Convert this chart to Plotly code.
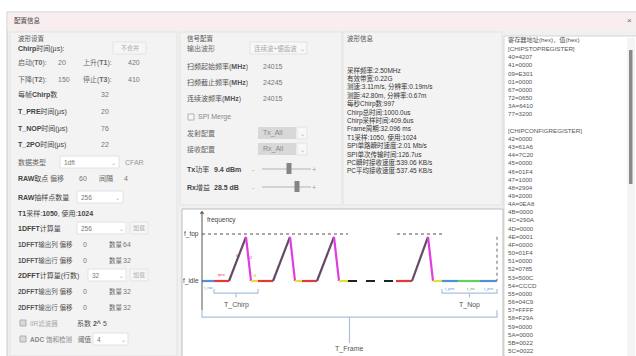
import numpy as np
import plotly.graph_objects as go

W, H = 636, 356
FONT = "Liberation Sans, Noto Sans CJK SC, sans-serif"

# ---------------- data ----------------
title_text = "配置信息"
timing_labels = ["启动(T0):", "上升(T1):", "下降(T2):", "停止(T3):"]
timing_values = [20, 420, 150, 410]
param_labels = ["每帧Chirp数", "T_PRE时间(μs)", "T_NOP时间(μs)", "T_2PO时间(μs)"]
param_values = [32, 20, 76, 22]
raw_offset, raw_step, raw_count = 60, 4, 256
t1_sample, t1_used = 1050, 1024
fft1_size, fft2_size = 256, 32
fft_rows = ["1DFFT输出列", "1DFFT输出行", "2DFFT输出列", "2DFFT输出行"]
fft_offsets = [0, 0, 0, 0]
fft_counts = [64, 32, 32, 32]
iir_coef, adc_threshold = 5, 4

freq_labels = ["扫频起始频率(MHz)", "扫频截止频率(MHz)", "连续波频率(MHz)"]
freq_values = [24015, 24245, 24015]
tx_power, rx_gain = 9.4, 28.5

info_lines = ["采样频率:2.50MHz", "有效带宽:0.22G", "测速:3.11m/s, 分辨率:0.19m/s",
              "测距:42.80m, 分辨率:0.67m", "每秒Chirp数:997", "Chirp总时间:1000.0us",
              "Chirp采样时间:409.6us", "Frame周期:32.096 ms", "T1采样:1050, 使用:1024",
              "SPI单路瞬时速度:2.01 Mb/s", "SPI单次传输时间:126.7us",
              "PC瞬时接收速度:539.06 KB/s", "PC平均接收速度:537.45 KB/s"]

stop_regs = ["40=4207", "41=0000", "09=E301", "01=0000", "67=0000", "72=0650", "3A=6410", "77=3200"]
config_regs = ["42=0000", "43=61A6", "44=7C20", "45=0000", "46=01F4", "47=1000", "48=2904",
               "49=2000", "4A=0EA8", "4B=0000", "4C=290A", "4D=0000", "4E=0001", "4F=0000",
               "50=01F4", "51=0000", "52=0785", "53=500C", "54=CCCD", "55=0000", "56=04C9",
               "57=FFFF", "58=F29A", "59=0000", "5A=0000", "5B=0022", "5C=0022"]

# waveform schematic: segment durations and kinds
seg_dur = [12, 15, 17, 5, 7, 15, 17, 5, 7, 15, 17, 5, 9, 48, 16, 16, 5, 9, 16, 22, 17]
seg_kind = ["nw", "pre", "up", "down", "po", "pre", "up", "down", "po", "pre", "up", "down", "po",
            "gap", "pre", "up", "down", "po", "nw", "nop", "nw"]
f_idle, f_peak, f_top = 0.0, 0.94, 1.0

kind_color = {"nw": "#4f8fdc", "pre": "#e23a3a", "up": "#654a68", "down": "#e03ce0",
              "po": "#e6dc3c", "gap": "#222222", "nop": "#5fd35f"}

# ---------------- helpers ----------------
shapes, ann = [], []


def px(x):
    return x / W


def py(y):
    return 1 - y / H


def text(x, y, s, size=7, color="#555", anchor="left", family=FONT):
    ann.append(dict(x=px(x), y=py(y), xref="paper", yref="paper", text=s, showarrow=False,
                    xanchor=anchor, yanchor="middle", font=dict(size=size, color=color, family=family),
                    borderpad=0))


def rect(x0, y0, x1, y1, fill, line=None, width=1):
    shapes.append(dict(type="rect", xref="paper", yref="paper", x0=px(x0), x1=px(x1),
                       y0=py(y1), y1=py(y0), fillcolor=fill,
                       line=dict(color=line if line else fill, width=width if line else 0),
                       layer="below"))


def hline(x0, x1, y, color, width=1):
    shapes.append(dict(type="line", xref="paper", yref="paper", x0=px(x0), x1=px(x1),
                       y0=py(y), y1=py(y), line=dict(color=color, width=width), layer="below"))


def combo(x0, x1, y, label, fill="#ffffff", tcolor="#777"):
    rect(x0, y - 6, x1, y + 6, fill, "#e2e2e2")
    text(x0 + 3, y, label, 6.5, tcolor)
    text(x1 - 5, y, "⌄", 6, "#aaa", "center", "DejaVu Sans")


def button(x0, x1, y, label):
    rect(x0, y - 6, x1, y + 6, "#f6f6f6", "#e4e4e4")
    text((x0 + x1) / 2, y, label, 6, "#aaa", "center")


def checkbox(x, y, fill="#ffffff"):
    rect(x - 3, y - 3, x + 3, y + 3, fill, "#b0b0b0")


# ---------------- window chrome ----------------
rect(7, 12, 640, 360, "#f0f0f0", "#c9c9c9")
rect(7.5, 12.5, 640, 30, "#f8edef")
text(13, 21, title_text, 6.5, "#444")
text(629, 21, "×", 8, "#666", "center")

# group panels
rect(10, 32, 177, 356, "#f3f3f3", "#e3e3e3")
rect(180, 32, 342, 205, "#f3f3f3", "#e3e3e3")
rect(343, 32, 502, 205, "#f3f3f3", "#e3e3e3")
rect(504, 36, 640, 360, "#ffffff", "#d5d5d5")
rect(627, 38, 635, 356, "#f4f4f4")
rect(629, 50, 632.5, 184, "#8a8a8a")

# ---------------- left panel ----------------
text(17, 38, "波形设置", 6.5, "#555")
text(17, 48, "<b>Chirp</b>时间(μs):", 7, "#444")
button(113, 146, 48, "不合并")
rows_y = [63, 79]
for i in range(2):
    text(17, rows_y[i], timing_labels[2 * i].replace("(T", "(<b>T").replace("):", "</b>):"), 7, "#666")
    text(57, rows_y[i], str(timing_values[2 * i]), 7, "#777")
    text(82, rows_y[i], timing_labels[2 * i + 1].replace("(T", "(<b>T").replace("):", "</b>):"), 7, "#666")
    text(127, rows_y[i], str(timing_values[2 * i + 1]), 7, "#777")
for i, yy in enumerate([95, 111, 128, 145]):
    lab = param_labels[i]
    if lab.startswith("T_"):
        lab = "<b>" + lab[:5] + "</b>" + lab[5:]
    else:
        lab = lab.replace("Chirp", "<b>Chirp</b>")
    text(17, yy, lab, 7, "#444")
    text(100, yy, str(param_values[i]), 7, "#777")
text(17, 162, "数据类型", 7, "#666")
combo(60, 119, 162, "1dft")
text(124, 162, "CFAR", 7, "#999")
text(17, 179, "<b>RAW</b>取点", 7, "#444")
text(49, 179, "偏移", 7, "#666")
text(78, 179, str(raw_offset), 7, "#777")
text(98, 179, "间隔", 7, "#666")
text(123, 179, str(raw_step), 7, "#777")
text(17, 197, "<b>RAW</b>抽样点数量", 7, "#444")
combo(77, 123, 197, str(raw_count))
text(17, 213, "<b>T1</b>采样:<b>%d</b>, 使用:<b>%d</b>" % (t1_sample, t1_used), 7, "#444")
text(17, 228, "<b>1DFFT</b>计算量", 7, "#444")
combo(77, 126, 228, str(fft1_size))
button(130, 148, 228, "加载")
fft_y = [244, 260, 291, 307]
for i in range(4):
    text(17, fft_y[i], "<b>" + fft_rows[i][:5] + "</b>" + fft_rows[i][5:] + " 偏移", 6.5, "#555")
    text(82, fft_y[i], str(fft_offsets[i]), 7, "#777")
    text(108, fft_y[i], "数量", 6.5, "#666")
    text(122, fft_y[i], str(fft_counts[i]), 7, "#777")
text(17, 275, "<b>2DFFT</b>计算量(行数)", 7, "#444")
combo(88, 126, 275, str(fft2_size))
button(130, 148, 275, "加载")
checkbox(23, 323, "#d8d8d8")
text(29, 323, "IIR滤波器", 6.5, "#aaa")
text(76, 323, "系数 <b>2^</b> " + str(iir_coef), 7, "#555")
checkbox(23, 339, "#d8d8d8")
text(29, 339, "<b>ADC</b> 饱和检测", 6.5, "#888")
text(77, 339, "阈值", 6.5, "#666")
combo(93, 128, 339, str(adc_threshold))

# ---------------- middle panel ----------------
text(186, 38, "信号配置", 6.5, "#555")
text(186, 48, "输出波形", 7, "#666")
combo(250, 307, 48, "连续波+锯齿波", "#f8f8f8", "#aaa")
for i, yy in enumerate([66, 83, 99]):
    text(186, yy, freq_labels[i].replace("(MHz)", "(<b>MHz</b>)"), 7, "#555")
    rect(258, yy - 6, 305, yy + 6, "#f3f3f3")
    text(262, yy, str(freq_values[i]), 7, "#777")
checkbox(191, 117, "#f7f7f7")
text(197, 117, "SPI Merge", 7, "#888")
for lab, val, yy in [("发射配置", "Tx_All", 133), ("接收配置", "Rx_All", 149)]:
    text(186, yy, lab, 7, "#666")
    rect(258, yy - 6, 296, yy + 6, "#d8d8d8")
    text(262, yy, val, 7, "#888")
    rect(297, yy - 6, 307, yy + 6, "#f7f7f7", "#e3e3e3")
    text(302, yy, "⌄", 6, "#aaa", "center", "DejaVu Sans")
for lab, val, unit, yy, thumb in [("Tx功率", tx_power, "dBm", 169, 289), ("Rx增益", rx_gain, "dB", 187, 297)]:
    text(186, yy, "<b>" + lab[:2] + "</b>" + lab[2:], 7, "#444")
    text(213, yy, "<b>%s %s</b>" % (val, unit), 7, "#444")
    text(253, yy, "-", 7, "#999", "center")
    text(314, yy, "+", 7, "#999", "center")
    hline(262, 311, yy, "#c8c8c8", 1.5)
    rect(thumb - 2.5, yy - 6, thumb + 2.5, yy + 5, "#858585")

# ---------------- info panel ----------------
text(346, 38, "波形信息", 6.5, "#555")
for i, s in enumerate(info_lines):
    text(346, 70 + 8.4 * i, s, 6.5, "#333")

# ---------------- register list ----------------
reg_lines = ["寄存器地址(hex)，值(hex)", "[CHIPSTOPREGISTER]"] + stop_regs + ["", "[CHIPCONFIGREGISTER]"] + config_regs
step = (350.5 - 40.5) / (len(reg_lines) - 1)
for i, s in enumerate(reg_lines):
    if s:
        text(507, 40.5 + step * i, s, 6.2, "#555")

# ---------------- diagram ----------------
rect(182, 209, 503, 360, "#ffffff", "#bdbdbd")

fig = go.Figure()
x_edges = np.concatenate([[0], np.cumsum(seg_dur)])
for i, kind in enumerate(seg_kind):
    x0, x1 = x_edges[i], x_edges[i + 1]
    if kind == "up":
        ys = [f_idle, f_peak]
    elif kind == "down":
        ys = [f_peak, f_idle]
    else:
        ys = [f_idle, f_idle]
    fig.add_trace(go.Scatter(x=[x0, x1], y=ys, mode="lines",
                             line=dict(color=kind_color[kind], width=2.2,
                                       dash="dash" if kind == "gap" else "solid"),
                             hoverinfo="skip", showlegend=False))

total = x_edges[-1]
gap_start = x_edges[seg_kind.index("gap")]
gap_end = x_edges[seg_kind.index("gap") + 1]
last_po_end = x_edges[len(seg_kind) - 3]
# f_top dotted reference
for xa, xb in [(0, gap_start), (gap_end + 1, last_po_end)]:
    fig.add_trace(go.Scatter(x=[xa, xb], y=[f_top, f_top], mode="lines",
                             line=dict(color="#8c8c8c", width=1.6, dash="dot"),
                             hoverinfo="skip", showlegend=False))
fig.add_trace(go.Scatter(x=[total, total], y=[f_peak, f_idle], mode="lines",
                         line=dict(color="#9a9a9a", width=1.5, dash="dot"),
                         hoverinfo="skip", showlegend=False))
# y axis with arrow
fig.add_trace(go.Scatter(x=[0, 0], y=[-0.62, 1.43], mode="lines",
                         line=dict(color="#555", width=1), hoverinfo="skip", showlegend=False))
fig.add_trace(go.Scatter(x=[0], y=[1.45], mode="markers",
                         marker=dict(symbol="triangle-up", size=4, color="#555"),
                         hoverinfo="skip", showlegend=False))

BR = "#a9c1dc"


def bracket(xa, xb, y, h, tick, label, ly):
    xm = (xa + xb) / 2
    fig.add_trace(go.Scatter(x=[xa, xa, xb, xb], y=[y + h, y, y, y + h], mode="lines",
                             line=dict(color=BR, width=1.2), hoverinfo="skip", showlegend=False))
    fig.add_trace(go.Scatter(x=[xm, xm], y=[y, y - tick], mode="lines",
                             line=dict(color=BR, width=1.2), hoverinfo="skip", showlegend=False))
    ann.append(dict(x=xm, y=ly, xref="x", yref="y", text=label, showarrow=False,
                    font=dict(size=7, color="#555", family=FONT)))


chirp_start = x_edges[1]
chirp_end = x_edges[5]
nop_start = x_edges[len(seg_kind) - 3]
bracket(chirp_start, chirp_end, -0.26, 0.09, 0.09, "T_Chirp", -0.5)
bracket(nop_start, total, -0.26, 0.09, 0.09, "T_Nop", -0.5)
bracket(0, total, -0.77, 0.15, 0.55, "T_Frame", -1.45)

for x, y, s, c, anc in [(-1, f_top, "f_top", "#444", "right"), (-1, f_idle, "f_idle", "#444", "right"),
                        (3, 1.3, "frequency", "#444", "left")]:
    ann.append(dict(x=x, y=y, xref="x", yref="y", text=s, showarrow=False, xanchor=anc,
                    font=dict(size=6.5, color=c, family=FONT)))
small = [(6, -0.13, "t_nw", kind_color["nw"]), (20, 0.13, "tpre", kind_color["pre"]),
         (36, 0.55, "t1", kind_color["up"]), (49, 0.5, "t2", kind_color["down"]),
         (53, 0.12, "t3", "#c8bd20"), (248, -0.15, "t_pre", kind_color["nw"]),
         (269, -0.15, "t_nv", "#3faa3f"), (287, -0.15, "t_pre", kind_color["nw"])]
for x, y, s, c in small:
    ann.append(dict(x=x, y=y, xref="x", yref="y", text=s, showarrow=False,
                    font=dict(size=4, color=c, family=FONT)))

# diagram axes mapping: x=0 at px 202, 1 unit per px; f_idle at px 281, f_top at px 234
x_lo, x_hi = 182 - 202, 503 - 202
unit = 281 - 234
y_hi, y_lo = (281 - 209) / unit, (281 - 356) / unit

fig.update_layout(
    width=W, height=H, margin=dict(l=0, r=0, t=0, b=0),
    paper_bgcolor="#ffffff", plot_bgcolor="rgba(0,0,0,0)",
    xaxis=dict(domain=[px(182), px(503)], range=[x_lo, x_hi], visible=False, fixedrange=True),
    yaxis=dict(domain=[0, py(209)], range=[y_lo, y_hi], visible=False, fixedrange=True),
    shapes=shapes, annotations=ann, showlegend=False,
)
fig.write_html("out.html", config={"displayModeBar": False},
               post_script="document.body.style.margin='0';document.body.style.overflow='hidden';")
